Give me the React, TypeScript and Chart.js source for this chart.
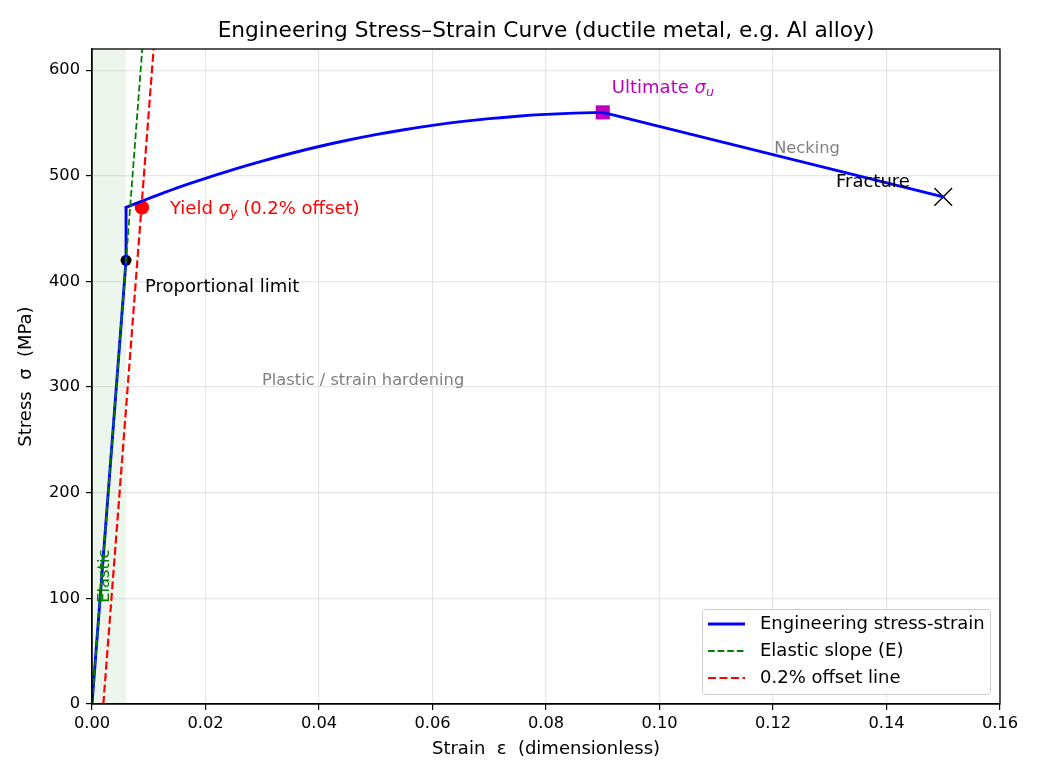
import React, { useEffect, useRef } from 'react';
import { Chart, registerables } from 'chart.js';

Chart.register(...registerables);

// ---- data ----
// elastic part up to proportional limit, then the jump to the yield plateau
const elasticPartStrain = [0, 0.006, 0.006];
const elasticPartStress = [0, 420, 470];
// strain hardening part up to ultimate strength
const hardeningStrain = [0.006, 0.01, 0.015, 0.02, 0.025, 0.03, 0.035, 0.04, 0.045, 0.05, 0.055, 0.06, 0.065, 0.07, 0.075, 0.08, 0.085, 0.09];
const hardeningStress = [470, 478.5, 488.6, 497.6, 506.1, 513.9, 521.1, 527.7, 533.6, 538.9, 543.6, 547.7, 551.2, 554.1, 556.4, 558.1, 559.3, 560];
// necking down to fracture
const neckingStrain = [0.09, 0.15];
const neckingStress = [560, 480];

const elasticStrain = [0, 0.0095];
const elasticStress = [0, 665];
const offsetStrain = [0.002, 0.0115];
const offsetStress = [0, 665];

const propLimitPoint = [0.006, 420];
const yieldPoint = [0.0088, 470];
const ultimatePoint = [0.09, 560];
const fracturePoint = [0.15, 480];

const elasticZone = [0, 0.006];

const xTickValues = [0, 0.02, 0.04, 0.06, 0.08, 0.1, 0.12, 0.14, 0.16];
const yTickValues = [0, 100, 200, 300, 400, 500, 600];
const xRange = [0, 0.16];
const yRange = [0, 620];

const titleText = 'Engineering Stress\u2013Strain Curve (ductile metal, e.g. Al alloy)';
const xTitle = 'Strain  \u03b5  (dimensionless)';
const yTitle = 'Stress  \u03c3  (MPa)';
const legendLabels = ['Engineering stress-strain', 'Elastic slope (E)', '0.2% offset line'];

const FONT = 'DejaVu Sans';
const BIG = 18;
const SMALL = 16.25;

type Part = { t: string; it?: boolean; sub?: boolean };

// annotation anchors in data coordinates (left edge, vertical middle)
const annotations: { x: number; y: number; parts: Part[]; color: string; size: number; rot?: boolean }[] = [
  { x: 0.00934, y: 394.6, parts: [{ t: 'Proportional limit' }], color: '#000000', size: BIG },
  { x: 0.01374, y: 468.4, parts: [{ t: 'Yield ' }, { t: '\u03c3', it: true }, { t: 'y', it: true, sub: true }, { t: ' (0.2% offset)' }], color: '#ff0000', size: BIG },
  { x: 0.0916, y: 583, parts: [{ t: 'Ultimate ' }, { t: '\u03c3', it: true }, { t: 'u', it: true, sub: true }], color: '#bf00bf', size: BIG },
  { x: 0.1202, y: 525.2, parts: [{ t: 'Necking' }], color: '#808080', size: SMALL },
  { x: 0.1311, y: 494, parts: [{ t: 'Fracture' }], color: '#000000', size: BIG },
  { x: 0.02996, y: 305.7, parts: [{ t: 'Plastic / strain hardening' }], color: '#808080', size: SMALL },
  { x: 0.0023, y: 121, parts: [{ t: 'Elastic' }], color: '#008000', size: SMALL, rot: true },
];

function drawParts(ctx: CanvasRenderingContext2D, parts: Part[], x: number, y: number, size: number) {
  let cx = x;
  for (const p of parts) {
    const s = p.sub ? size * 0.7 : size;
    ctx.font = `${p.it ? 'italic ' : ''}${s}px ${FONT}`;
    ctx.fillText(p.t, cx, p.sub ? y + size * 0.28 : y);
    cx += ctx.measureText(p.t).width;
  }
}

const decorPlugin = {
  id: 'decor',
  beforeDatasetsDraw(chart: any) {
    const { ctx, chartArea, scales } = chart;
    const x0 = scales.x.getPixelForValue(elasticZone[0]);
    const x1 = scales.x.getPixelForValue(elasticZone[1]);
    ctx.save();
    ctx.fillStyle = 'rgba(0,128,0,0.07)';
    ctx.fillRect(x0, chartArea.top, x1 - x0, chartArea.bottom - chartArea.top);
    ctx.restore();
  },
  afterDatasetsDraw(chart: any) {
    const { ctx, chartArea, scales } = chart;
    ctx.save();
    // frame
    ctx.strokeStyle = '#000';
    ctx.lineWidth = 1.3;
    const l = Math.round(chartArea.left);
    const r = Math.round(chartArea.right);
    const t = Math.round(chartArea.top);
    const b = Math.round(chartArea.bottom);
    ctx.strokeRect(l, t, r - l, b - t);

    // annotations
    ctx.textBaseline = 'middle';
    ctx.textAlign = 'left';
    for (const a of annotations) {
      const px = scales.x.getPixelForValue(a.x);
      const py = scales.y.getPixelForValue(a.y);
      ctx.fillStyle = a.color;
      if (a.rot) {
        ctx.save();
        ctx.translate(px, py);
        ctx.rotate(-Math.PI / 2);
        ctx.textAlign = 'center';
        ctx.font = `${a.size}px ${FONT}`;
        ctx.fillText(a.parts[0].t, 0, 0);
        ctx.restore();
      } else {
        drawParts(ctx, a.parts, px, py, a.size);
      }
    }

    // title
    const cxm = (chartArea.left + chartArea.right) / 2;
    ctx.fillStyle = '#000';
    ctx.textAlign = 'center';
    ctx.font = `21.7px ${FONT}`;
    ctx.fillText(titleText, cxm, 31);
    // axis titles
    ctx.font = `${BIG}px ${FONT}`;
    ctx.fillText(xTitle, cxm, 749);
    ctx.save();
    ctx.translate(26, (chartArea.top + chartArea.bottom) / 2);
    ctx.rotate(-Math.PI / 2);
    ctx.fillText(yTitle, 0, 0);
    ctx.restore();

    // legend
    const bx = chartArea.right - 298, by = chartArea.bottom - 95, bw = 288, bh = 85;
    ctx.fillStyle = 'rgba(255,255,255,0.85)';
    ctx.strokeStyle = '#cccccc';
    ctx.lineWidth = 1;
    ctx.beginPath();
    (ctx as any).roundRect(bx + 0.5, by + 0.5, bw, bh, 3);
    ctx.fill();
    ctx.stroke();
    const styles = [
      { c: '#0000ff', w: 2.9, d: [] as number[] },
      { c: '#008000', w: 1.8, d: [6.7, 2.9] },
      { c: '#ff0000', w: 2.2, d: [8, 3.5] },
    ];
    ctx.textAlign = 'left';
    ctx.textBaseline = 'middle';
    ctx.font = `${BIG}px ${FONT}`;
    for (let i = 0; i < legendLabels.length; i++) {
      const yy = by + 15 + i * 27;
      ctx.strokeStyle = styles[i].c;
      ctx.lineWidth = styles[i].w;
      ctx.setLineDash(styles[i].d);
      ctx.beginPath();
      ctx.moveTo(bx + 6, yy);
      ctx.lineTo(bx + 43, yy);
      ctx.stroke();
      ctx.setLineDash([]);
      ctx.fillStyle = '#000';
      ctx.fillText(legendLabels[i], bx + 58, yy);
    }
    ctx.restore();
  },
};

const pts = (xs: number[], ys: number[]) => xs.map((x, i) => ({ x, y: ys[i] }));

const blueLine = {
  showLine: true,
  borderColor: '#0000ff',
  backgroundColor: '#0000ff',
  borderWidth: 2.9,
  pointRadius: 0,
  borderCapStyle: 'round',
  borderJoinStyle: 'round',
};

export default function App() {
  const ref = useRef<HTMLCanvasElement>(null);
  useEffect(() => {
    if (!ref.current) return;
    Chart.defaults.font.family = FONT;
    const chart = new Chart(ref.current, {
      type: 'scatter',
      data: {
        datasets: [
          {
            label: 'Elastic slope (E)',
            data: pts(elasticStrain, elasticStress),
            showLine: true,
            borderColor: '#008000',
            borderWidth: 1.8,
            borderDash: [6.7, 2.9],
            pointRadius: 0,
          },
          {
            label: '0.2% offset line',
            data: pts(offsetStrain, offsetStress),
            showLine: true,
            borderColor: '#ff0000',
            borderWidth: 2.2,
            borderDash: [8, 3.5],
            pointRadius: 0,
          },
          { label: 'Engineering stress-strain', data: pts(elasticPartStrain, elasticPartStress), ...blueLine },
          { label: 'hardening', data: pts(hardeningStrain, hardeningStress), ...blueLine, cubicInterpolationMode: 'monotone' },
          { label: 'necking', data: pts(neckingStrain, neckingStress), ...blueLine },
          {
            label: 'prop',
            data: [{ x: propLimitPoint[0], y: propLimitPoint[1] }],
            pointRadius: 5.5,
            backgroundColor: '#000',
            borderColor: '#000',
            borderWidth: 0,
          },
          {
            label: 'yield',
            data: [{ x: yieldPoint[0], y: yieldPoint[1] }],
            pointRadius: 7.2,
            backgroundColor: '#ff0000',
            borderColor: '#ff0000',
            borderWidth: 0,
          },
          {
            label: 'ult',
            data: [{ x: ultimatePoint[0], y: ultimatePoint[1] }],
            pointStyle: 'rect',
            pointRadius: 10,
            backgroundColor: '#bf00bf',
            borderColor: '#bf00bf',
            borderWidth: 0,
          },
          {
            label: 'frac',
            data: [{ x: fracturePoint[0], y: fracturePoint[1] }],
            pointStyle: 'crossRot',
            pointRadius: 12.5,
            borderColor: '#000',
            borderWidth: 1.4,
          },
        ],
      },
      options: {
        responsive: false,
        animation: false,
        devicePixelRatio: 1,
        layout: { padding: { top: 49, right: 40, left: 0, bottom: 0 } },
        plugins: { legend: { display: false }, title: { display: false }, tooltip: { enabled: false } },
        scales: {
          x: {
            type: 'linear',
            min: xRange[0],
            max: xRange[1],
            afterBuildTicks: (s: any) => { s.ticks = xTickValues.map((v) => ({ value: v })); },
            afterFit: (s: any) => { s.height = 76; },
            ticks: {
              color: '#000',
              font: { size: SMALL, family: FONT },
              padding: 4,
              maxRotation: 0,
              autoSkip: false,
              callback: (v: any) => Number(v).toFixed(2),
            },
            grid: { color: 'rgba(176,176,176,0.3)', tickColor: '#000', tickLength: 6, lineWidth: 1.2 },
            border: { color: '#000', width: 1.3 },
          },
          y: {
            type: 'linear',
            min: yRange[0],
            max: yRange[1],
            afterBuildTicks: (s: any) => { s.ticks = yTickValues.map((v) => ({ value: v })); },
            afterFit: (s: any) => { s.width = 92; },
            ticks: {
              color: '#000',
              font: { size: SMALL, family: FONT },
              padding: 6,
              autoSkip: false,
              callback: (v: any) => String(Math.round(Number(v))),
            },
            grid: { color: 'rgba(176,176,176,0.3)', tickColor: '#000', tickLength: 6, lineWidth: 1.2 },
            border: { color: '#000', width: 1.3 },
          },
        },
      },
      plugins: [decorPlugin],
    } as any);
    return () => chart.destroy();
  }, []);
  return (
    <div style={{ position: 'fixed', left: 0, top: 0, width: 1040, height: 780, background: '#fff' }}>
      <canvas ref={ref} width={1040} height={780} style={{ width: 1040, height: 780, display: 'block' }} />
    </div>
  );
}
